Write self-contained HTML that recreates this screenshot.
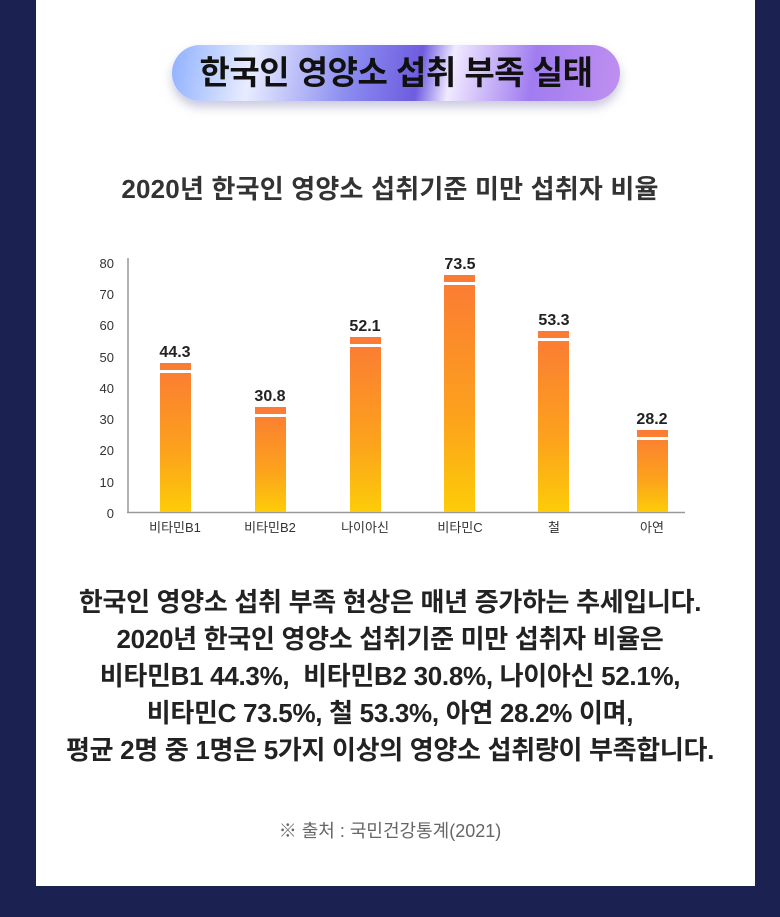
<!DOCTYPE html>
<html><head><meta charset="utf-8"><style>
body{margin:0;width:780px;height:917px;background:#1b2150;font-family:"Liberation Sans","Noto Sans CJK KR",sans-serif;overflow:hidden}
.panel{position:absolute;left:36px;top:0;width:719px;height:886px;background:#fff}
.pill{position:absolute;left:172px;top:45px;width:448px;height:56px;border-radius:28px;
background:linear-gradient(100deg,#8fb0ff 0%,#e8ecff 18%,#8a8cf0 40%,#6f5ce0 55%,#f0eaff 62%,#a07cf0 80%,#c090f0 100%);
box-shadow:0 6px 10px rgba(100,100,160,.35);text-align:center;line-height:56px;font-size:33px;font-weight:bold;color:#111;letter-spacing:-0.5px}
.sub{position:absolute;left:0;width:780px;top:169px;text-align:center;font-size:26px;font-weight:bold;color:#333;letter-spacing:0.2px}
.para{position:absolute;left:0;width:780px;top:584px;text-align:center;font-size:26px;font-weight:bold;color:#222;line-height:37px;letter-spacing:-0.3px}
.src{position:absolute;left:0;width:780px;top:817px;text-align:center;font-size:18px;color:#666}
</style></head><body>
<div class="panel"></div>
<div class="pill">한국인 영양소 섭취 부족 실태</div>
<div class="sub">2020년 한국인 영양소 섭취기준 미만 섭취자 비율</div>
<svg width="780" height="917" style="position:absolute;left:0;top:0">
<defs><linearGradient id="g" x1="0" y1="0" x2="0" y2="1"><stop offset="0" stop-color="#fb7a35"/><stop offset="0.6" stop-color="#fca21c"/><stop offset="1" stop-color="#fdcc08"/></linearGradient></defs>
<g font-family="Liberation Sans, sans-serif" font-size="13" fill="#333" text-anchor="end">
<text x="114" y="268">80</text><text x="114" y="299">70</text><text x="114" y="330">60</text><text x="114" y="362">50</text><text x="114" y="393">40</text><text x="114" y="424">30</text><text x="114" y="455">20</text><text x="114" y="487">10</text><text x="114" y="518">0</text>
</g>
<line x1="128" y1="258" x2="128" y2="513" stroke="#999" stroke-width="1.5"/>
<line x1="127" y1="512.5" x2="685" y2="512.5" stroke="#999" stroke-width="1.5"/>
<g>
<rect x="160" y="363" width="31" height="149" fill="url(#g)"/><rect x="160" y="370" width="31" height="3" fill="#fff"/>
<rect x="255" y="407" width="31" height="105" fill="url(#g)"/><rect x="255" y="414" width="31" height="3" fill="#fff"/>
<rect x="350" y="337" width="31" height="175" fill="url(#g)"/><rect x="350" y="344" width="31" height="3" fill="#fff"/>
<rect x="444" y="275" width="31" height="237" fill="url(#g)"/><rect x="444" y="282" width="31" height="3" fill="#fff"/>
<rect x="538" y="331" width="31" height="181" fill="url(#g)"/><rect x="538" y="338" width="31" height="3" fill="#fff"/>
<rect x="637" y="430" width="31" height="82" fill="url(#g)"/><rect x="637" y="437" width="31" height="3" fill="#fff"/>
</g>
<g font-family="Liberation Sans, sans-serif" font-size="16" font-weight="bold" fill="#222" text-anchor="middle">
<text x="175" y="357">44.3</text><text x="270" y="401">30.8</text><text x="365" y="331">52.1</text><text x="460" y="269">73.5</text><text x="554" y="325">53.3</text><text x="652" y="424">28.2</text>
</g>
<g font-family="Liberation Sans, Noto Sans CJK KR, sans-serif" font-size="13" fill="#333" text-anchor="middle">
<text x="175" y="532">비타민B1</text><text x="270" y="532">비타민B2</text><text x="365" y="532">나이아신</text><text x="460" y="532">비타민C</text><text x="554" y="532">철</text><text x="652" y="532">아연</text>
</g>
</svg>
<div class="para">한국인 영양소 섭취 부족 현상은 매년 증가하는 추세입니다.<br>2020년 한국인 영양소 섭취기준 미만 섭취자 비율은<br>비타민B1 44.3%,&nbsp; 비타민B2 30.8%, 나이아신 52.1%,<br>비타민C 73.5%, 철 53.3%, 아연 28.2% 이며,<br>평균 2명 중 1명은 5가지 이상의 영양소 섭취량이 부족합니다.</div>
<div class="src">※ 출처 : 국민건강통계(2021)</div>
</body></html>
